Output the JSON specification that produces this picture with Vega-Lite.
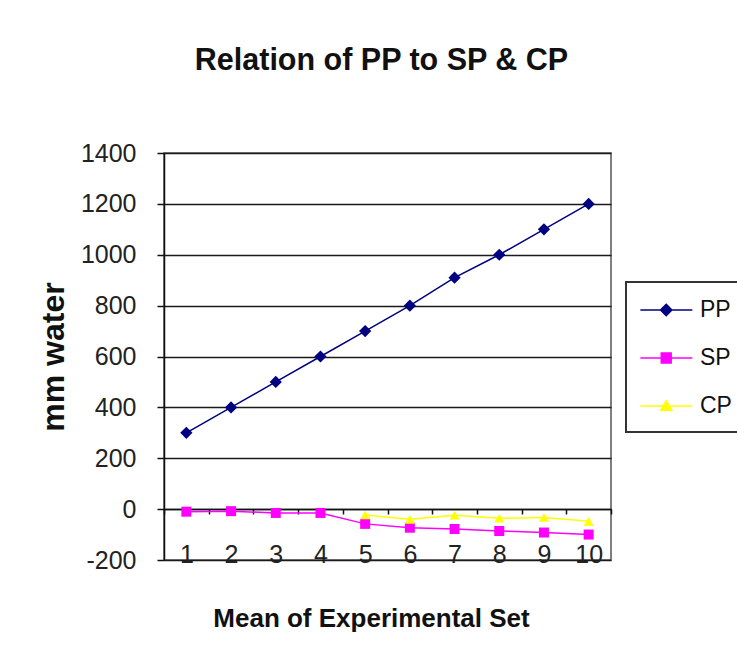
{
  "$schema": "https://vega.github.io/schema/vega-lite/v6.json",
  "width": 447,
  "height": 407,
  "autosize": {"type": "none"},
  "padding": {"left": 164, "top": 153, "right": 126, "bottom": 99},
  "background": "white",
  "title": {
    "text": "Relation of PP to SP & CP",
    "font": "Liberation Sans",
    "fontSize": 30.5,
    "fontWeight": "bold",
    "color": "#111111",
    "anchor": "middle",
    "frame": "group",
    "baseline": "alphabetic",
    "dx": -6,
    "offset": 41
  },
  "data": {
    "values": [
      {"x": 1, "series": "PP", "value": 300},
      {"x": 2, "series": "PP", "value": 400},
      {"x": 3, "series": "PP", "value": 500},
      {"x": 4, "series": "PP", "value": 600},
      {"x": 5, "series": "PP", "value": 700},
      {"x": 6, "series": "PP", "value": 800},
      {"x": 7, "series": "PP", "value": 910},
      {"x": 8, "series": "PP", "value": 1000},
      {"x": 9, "series": "PP", "value": 1100},
      {"x": 10, "series": "PP", "value": 1200},
      {"x": 1, "series": "SP", "value": -10},
      {"x": 2, "series": "SP", "value": -8},
      {"x": 3, "series": "SP", "value": -15},
      {"x": 4, "series": "SP", "value": -15},
      {"x": 5, "series": "SP", "value": -58},
      {"x": 6, "series": "SP", "value": -73},
      {"x": 7, "series": "SP", "value": -78},
      {"x": 8, "series": "SP", "value": -86},
      {"x": 9, "series": "SP", "value": -92},
      {"x": 10, "series": "SP", "value": -100},
      {"x": 5, "series": "CP", "value": -23},
      {"x": 6, "series": "CP", "value": -40},
      {"x": 7, "series": "CP", "value": -24},
      {"x": 8, "series": "CP", "value": -36},
      {"x": 9, "series": "CP", "value": -33},
      {"x": 10, "series": "CP", "value": -48}
    ]
  },
  "encoding": {
    "x": {
      "field": "x",
      "type": "ordinal",
      "scale": {"type": "band", "paddingInner": 0, "paddingOuter": 0, "domain": [1, 2, 3, 4, 5, 6, 7, 8, 9, 10]},
      "axis": {
        "orient": "bottom",
        "offset": -51,
        "title": "Mean of Experimental Set",
        "titleFont": "Liberation Sans",
        "titleFontSize": 26,
        "titleFontWeight": "bold",
        "titleColor": "#111111",
        "titleX": 207,
        "titleY": 117,
        "titleBaseline": "alphabetic",
        "titleAlign": "center",
        "labelAngle": 0,
        "labelFont": "Liberation Sans",
        "labelFontSize": 25,
        "labelColor": "#222222",
        "labelPadding": 28,
        "tickBand": "extent",
        "tickSize": 5,
        "tickColor": "#111111",
        "tickWidth": 1.5,
        "domainColor": "#111111",
        "domainWidth": 1.5,
        "grid": false
      }
    },
    "y": {
      "field": "value",
      "type": "quantitative",
      "scale": {"domain": [-200, 1400], "nice": false, "zero": false},
      "axis": {
        "values": [-200, 0, 200, 400, 600, 800, 1000, 1200, 1400],
        "labelExpr": "toString(datum.value)",
        "title": "mm water",
        "titleFont": "Liberation Sans",
        "titleFontSize": 32,
        "titleFontWeight": "bold",
        "titleColor": "#111111",
        "titleX": -101,
        "titleBaseline": "alphabetic",
        "labelFont": "Liberation Sans",
        "labelFontSize": 25,
        "labelColor": "#222222",
        "labelPadding": 21,
        "tickSize": 7,
        "tickColor": "#111111",
        "tickWidth": 1.5,
        "domainColor": "#111111",
        "domainWidth": 1.5,
        "grid": true,
        "gridColor": "#1a1a1a",
        "gridWidth": 1.7
      }
    },
    "color": {
      "field": "series",
      "type": "nominal",
      "scale": {"domain": ["PP", "SP", "CP"], "range": ["#000080", "#FF00FF", "#FFFF00"]},
      "legend": {
        "title": null,
        "orient": "none",
        "legendX": 462,
        "legendY": 129,
        "direction": "vertical",
        "symbolSize": 676,
        "symbolOpacity": 1,
        "symbolStrokeWidth": 1.5,
        "labelFont": "Liberation Sans",
        "labelFontSize": 23,
        "labelColor": "#111111",
        "labelOffset": 32,
        "rowPadding": 22,
        "padding": 14,
        "strokeColor": "#333333",
        "encode": {
          "legend": {"update": {"strokeWidth": {"value": 2}}},
          "symbols": {
            "update": {
              "shape": {"signal": "datum.value === 'PP' ? 'M-1.05,0H2.95M0.94,-0.44L1.38,0L0.94,0.44L0.5,0Z' : datum.value === 'SP' ? 'M-1.05,0H2.95M0.56,-0.38H1.32V0.38H0.56Z' : 'M-1.05,0H2.95M0.94,-0.4L1.36,0.32H0.52Z'"}
            }
          }
        }
      }
    }
  },
  "layer": [
    {"mark": {"type": "line", "strokeWidth": 1.5}},
    {
      "transform": [{"filter": "datum.series === 'PP'"}],
      "mark": {"type": "point", "filled": true, "opacity": 1, "size": 150, "shape": "diamond"}
    },
    {
      "transform": [{"filter": "datum.series === 'SP'"}],
      "mark": {"type": "point", "filled": true, "opacity": 1, "size": 100, "shape": "square"}
    },
    {
      "transform": [{"filter": "datum.series === 'CP'"}],
      "mark": {"type": "point", "filled": true, "opacity": 1, "size": 100, "shape": "triangle-up"}
    }
  ],
  "config": {
    "view": {"stroke": "#555555", "strokeWidth": 1.5}
  }
}
